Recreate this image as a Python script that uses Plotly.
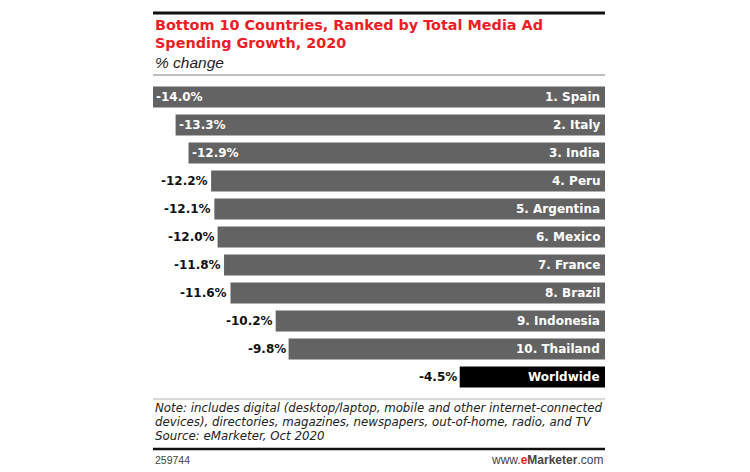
import plotly.graph_objects as go

countries = ["1. Spain", "2. Italy", "3. India", "4. Peru", "5. Argentina", "6. Mexico",
             "7. France", "8. Brazil", "9. Indonesia", "10. Thailand", "Worldwide"]
values = [-14.0, -13.3, -12.9, -12.2, -12.1, -12.0, -11.8, -11.6, -10.2, -9.8, -4.5]
value_labels = ["-14.0%", "-13.3%", "-12.9%", "-12.2%", "-12.1%", "-12.0%", "-11.8%",
                "-11.6%", "-10.2%", "-9.8%", "-4.5%"]
inside_label = [True, True, True, False, False, False, False, False, False, False, False]

W, H = 750, 472
L, R = 153, 605
T, B = 83, 391

colors = ["#636363"] * 10 + ["#000000"]

fig = go.Figure(go.Bar(
    x=values, y=countries, orientation="h",
    marker=dict(color=colors, line=dict(width=0)),
    hoverinfo="skip",
))

def py(p):
    return (B - p) / (B - T)

def px(p):
    return (p - L) / (R - L)

ann = []
lab_font = dict(family="DejaVu Sans", size=12, color="white")
for c, v, t, ins in zip(countries, values, value_labels, inside_label):
    ann.append(dict(x=0, y=c, xref="x", yref="y", text="<b>%s</b>" % c, showarrow=False,
                    xanchor="right", xshift=-3, font=lab_font))
    if ins:
        ann.append(dict(x=v, y=c, xref="x", yref="y", text="<b>%s</b>" % t, showarrow=False,
                        xanchor="left", xshift=1, font=lab_font))
    else:
        ann.append(dict(x=v, y=c, xref="x", yref="y", text="<b>%s</b>" % t, showarrow=False,
                        xanchor="right", xshift=-1,
                        font=dict(family="DejaVu Sans", size=12, color="#111111")))

def txt(text, y, size, family, color="#222222", xanchor="left", x=153):
    return dict(x=px(x), y=py(y), xref="paper", yref="paper", xanchor=xanchor, yanchor="middle",
                text=text, showarrow=False, align="left",
                font=dict(family=family, size=size, color=color))

red = "#ee1c25"
ann += [
    txt("<b>Bottom 10 Countries, Ranked by Total Media Ad</b>", 25, 14.4, "DejaVu Sans", red),
    txt("<b>Spending Growth, 2020</b>", 43, 14.4, "DejaVu Sans", red),
    txt("<i>% change</i>", 62, 15.5, "Liberation Sans"),
    txt("<i>Note: includes digital (desktop/laptop, mobile and other internet-connected</i>", 408, 11.8, "DejaVu Sans"),
    txt("<i>devices), directories, magazines, newspapers, out-of-home, radio, and TV</i>", 422, 11.8, "DejaVu Sans"),
    txt("<i>Source: eMarketer, Oct 2020</i>", 436, 11.8, "DejaVu Sans"),
    txt("259744", 460, 10.5, "Liberation Sans", "#444444"),
    txt("www.<span style='color:%s'><b>e</b></span><b>Marketer</b>.com" % red, 460, 12,
        "Liberation Sans", "#444444", xanchor="right", x=605),
]

shapes = [
    dict(type="line", xref="paper", yref="paper", x0=0, x1=1, y0=py(13), y1=py(13),
         line=dict(color="#111111", width=3)),
    dict(type="line", xref="paper", yref="paper", x0=0, x1=1, y0=py(75), y1=py(75),
         line=dict(color="#aaaaaa", width=1.5)),
    dict(type="line", xref="paper", yref="paper", x0=0, x1=1, y0=py(399), y1=py(399),
         line=dict(color="#cccccc", width=1.5)),
    dict(type="line", xref="paper", yref="paper", x0=0, x1=1, y0=py(449), y1=py(449),
         line=dict(color="#111111", width=2.5)),
]

fig.update_layout(
    width=W, height=H,
    margin=dict(l=L, r=W - R, t=T, b=H - B),
    paper_bgcolor="white", plot_bgcolor="white",
    bargap=0.25,
    showlegend=False,
    xaxis=dict(range=[-14.0, 0], visible=False, fixedrange=True),
    yaxis=dict(autorange="reversed", visible=False, fixedrange=True),
    annotations=ann, shapes=shapes,
)

fig.write_html("out.html", config={"displayModeBar": False},
               post_script="document.body.style.margin='0';")
